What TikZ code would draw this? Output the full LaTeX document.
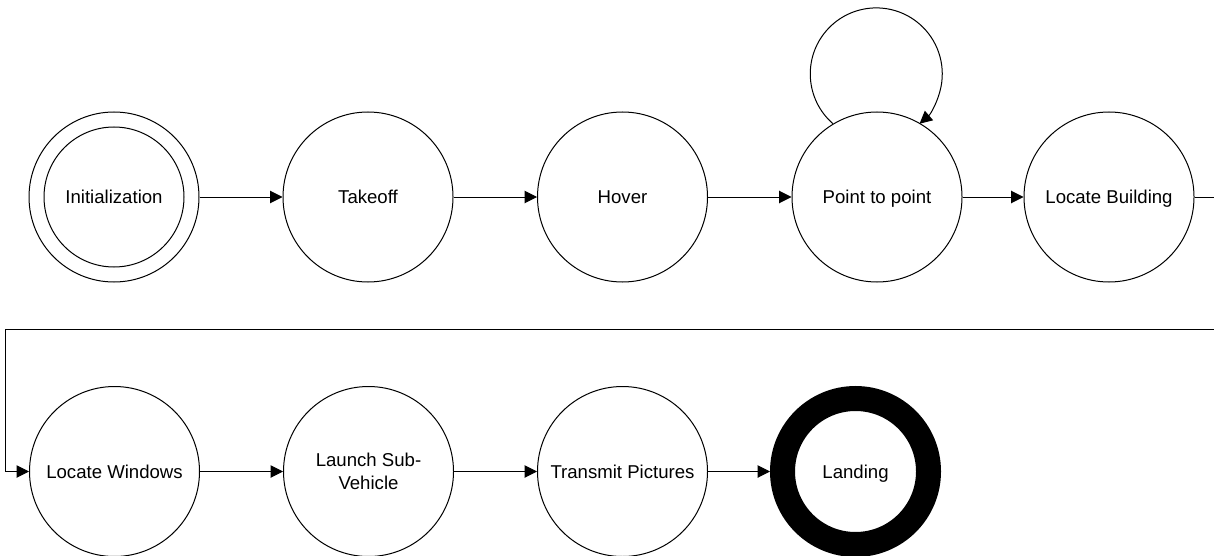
\documentclass[tikz,border=0pt]{standalone}
\usepackage{fontspec}
\setmainfont{Liberation Sans}
\usetikzlibrary{arrows.meta}
\tikzset{
  statetext/.style={font=\fontsize{18.6pt}{22.5pt}\selectfont, align=center,
    text height=13.3pt, text depth=0pt},
  state/.style={draw, circle, line width=1pt, minimum size=170pt, inner sep=0pt, statetext},
  finalstate/.style={draw, circle, line width=25pt, minimum size=146pt, inner sep=0pt, statetext},
  twolines/.style={text height=35.8pt},
  flow/.style={line width=1pt, -{Triangle[length=12.5pt,width=12.5pt]}},
}
\begin{document}
\begin{tikzpicture}[x=1pt,y=1pt]
\useasboundingbox (0,0) rectangle (1214,-556);

% first row of states
\node[state] (init) at (114,-197) {Initialization};
\draw[line width=1pt] (init.center) circle (70);
\node[state] (takeoff) at (368,-197) {Takeoff};
\node[state] (hover) at (622.5,-197) {Hover};
\node[state] (ptp) at (877,-197) {Point to point};
\node[state] (lb) at (1109,-197) {Locate Building};

% second row of states
\node[state] (lw) at (114.5,-471.5) {Locate Windows};
\node[state, twolines] (lsv) at (368.5,-471.5) {Launch Sub-\\Vehicle};
\node[state] (tp) at (622.5,-471.5) {Transmit Pictures};
\node[finalstate] (land) at (855.5,-471.5) {Landing};

% route from the end of the first row back to the start of the second
\coordinate (turnR) at (1224,-329);
\coordinate (turnL) at (5,-329);

% transitions
\draw[flow] (init) -- (takeoff);
\draw[flow] (takeoff) -- (hover);
\draw[flow] (hover) -- (ptp);
\draw[flow] (ptp) -- (lb);
\draw[flow] (ptp.121) arc[start angle=229, end angle=-49, radius=66];
\draw[flow] (lb.east) -| (turnR) -- (turnL) |- (lw.west);
\draw[flow] (lw) -- (lsv);
\draw[flow] (lsv) -- (tp);
\draw[flow] (tp) -- (land);
\end{tikzpicture}
\end{document}
